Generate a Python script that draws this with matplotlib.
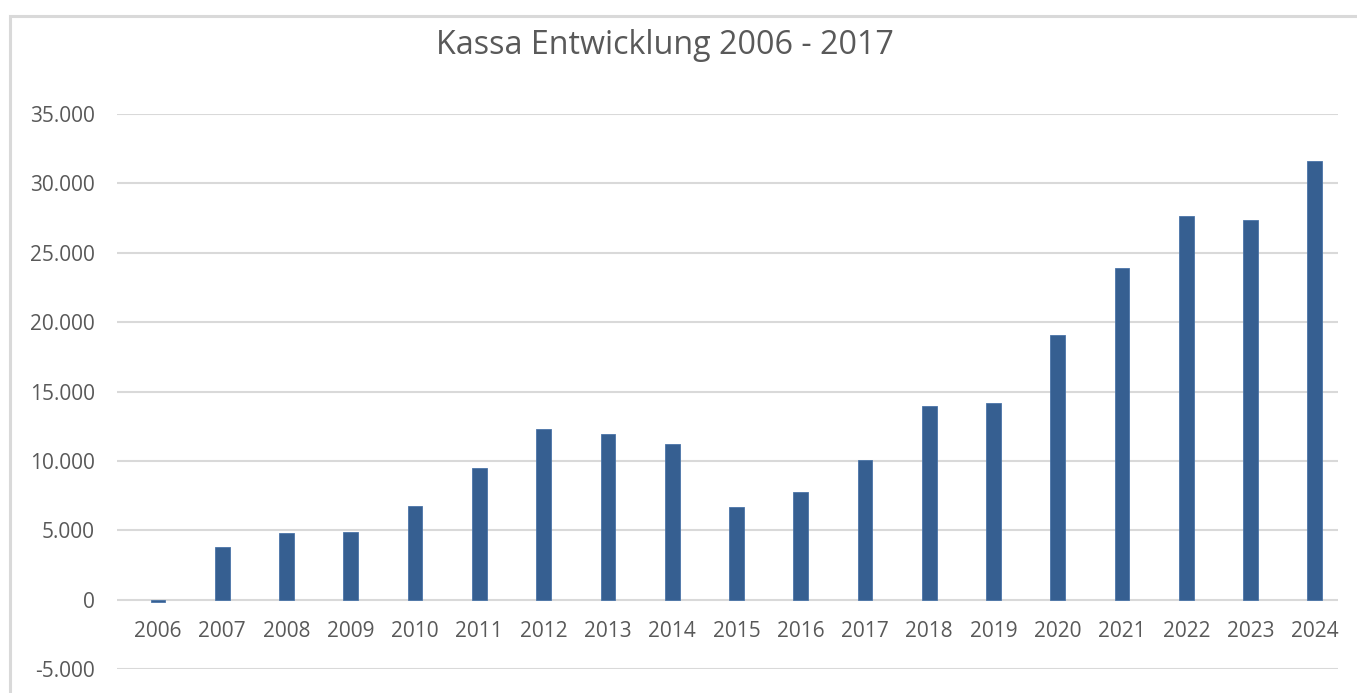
import matplotlib
matplotlib.use("Agg")
import matplotlib.pyplot as plt
from matplotlib.patches import Rectangle

years = ["2006", "2007", "2008", "2009", "2010", "2011", "2012", "2013", "2014", "2015",
         "2016", "2017", "2018", "2019", "2020", "2021", "2022", "2023", "2024"]
kassa = [-170, 3780, 4810, 4900, 6730, 9520, 12310, 11960, 11240, 6700,
         7780, 10050, 13950, 14160, 19040, 23930, 27640, 27360, 31600]
yticks = [-5000, 0, 5000, 10000, 15000, 20000, 25000, 30000, 35000]
ytick_labels = ["-5.000", "0", "5.000", "10.000", "15.000", "20.000", "25.000", "30.000", "35.000"]
title = "Kassa Entwicklung 2006 - 2017"

plt.rcParams['font.family'] = ['Open Sans', 'DejaVu Sans']
W, H = 1357, 693
fig = plt.figure(figsize=(W / 100, H / 100), dpi=100)
fig.patch.set_facecolor('white')

left, right, top, bottom = 117, 1338, 114, 669
ax = fig.add_axes([left / W, 1 - bottom / H, (right - left) / W, (bottom - top) / H])

text_color = '#595959'
grid_color = '#d9d9d9'
bar_color = '#365F91'

x = list(range(len(years)))
ax.bar(x, kassa, width=0.23, color=bar_color, edgecolor='#4a74a8', linewidth=0.6, zorder=3)

ax.set_ylim(-5000, 35000)
ax.set_xlim(-0.638, len(years) - 1 + 0.36)
ax.set_yticks(yticks)
ax.set_yticklabels(ytick_labels)
ax.set_xticks(x)
ax.set_xticklabels(years)

ax.yaxis.grid(True, color=grid_color, linewidth=1.5, zorder=0)
ax.set_axisbelow(True)
for s in ['left', 'right', 'top']:
    ax.spines[s].set_visible(False)
ax.spines['bottom'].set_position(('data', 0))
ax.spines['bottom'].set_visible(False)

ax.tick_params(axis='y', length=0, pad=16, labelsize=15, labelcolor=text_color)
ax.tick_params(axis='x', length=0, pad=15.5, labelsize=15, labelcolor=text_color)

fig.text(665 / W, 1 - 46 / H, title, ha='center', va='center', fontsize=23.2, color=text_color)

fig.add_artist(Rectangle((10 / W, -0.2), 1.2, 1.2 - 16 / H, transform=fig.transFigure,
                         fill=False, edgecolor=grid_color, linewidth=2.2))

fig.savefig("out.png", dpi=100)
